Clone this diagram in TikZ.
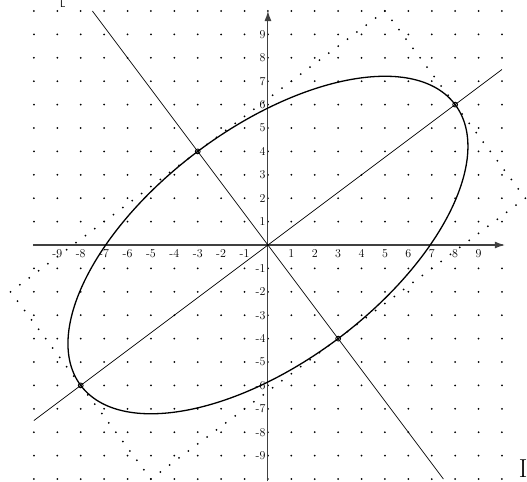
\documentclass[tikz,border=0pt]{standalone}
\usetikzlibrary{arrows.meta}
\begin{document}
\begin{tikzpicture}[x=23.4pt,y=23.4pt,
  axisline/.style={line width=1.1pt,draw=black!75},
  thinline/.style={line width=0.7pt},
  curve/.style={line width=1.3pt},
  dotrect/.style={line width=2pt,line cap=round,dash pattern=on 0pt off 11.7pt},
  ptmark/.style={line width=0.9pt},
  lab/.style={font=\fontsize{12}{13}\selectfont,inner sep=0pt}]
\useasboundingbox (-11.45,-10.09) rectangle (11.07,10.47);
% grid dots
\foreach \i in {-10,...,10}
  \foreach \j in {-10,...,10}
    \fill (\i,\j) circle (1pt);
% named points
\coordinate (O) at (0,0);
\coordinate (P1) at (8,6);
\coordinate (P2) at (-8,-6);
\coordinate (Q1) at (-3,4);
\coordinate (Q2) at (3,-4);
\coordinate (C1) at (5,10);
\coordinate (C2) at (11,2);
\coordinate (C3) at (-5,-10);
\coordinate (C4) at (-11,-2);
\coordinate (A1) at (-10,-7.5);
\coordinate (A2) at (10,7.5);
\coordinate (B1) at (-7.5,10);
\coordinate (B2) at (7.5,-10);
\coordinate (XL) at (-10,0);
\coordinate (XR) at (10.12,0);
\coordinate (YB) at (0,-10.1);
\coordinate (YT) at (0,10);
% dotted bounding rectangle
\draw[dotrect] (C1) -- (C2) -- (C3) -- (C4) -- cycle;
% axes
\draw[axisline,-{Latex[length=10pt,width=7pt]}] (XL) -- (XR);
\draw[axisline,-{Latex[length=10pt,width=7pt]}] (YB) -- (YT);
% principal axes
\draw[thinline] (A1) -- (A2);
\draw[thinline] (B1) -- (B2);
% ellipse
\draw[curve,rotate=36.8699] (O) ellipse [x radius=10, y radius=5];
% marked points
\foreach \p in {P1,P2,Q1,Q2}
  \draw[ptmark] (\p) circle (2.4pt);
% tick labels
\foreach \i in {-9,...,-1,1,2,...,9}
  \node[lab] at (\i,-0.37) {\i};
\foreach \j in {-9,...,-1,1,2,...,9}
  \node[lab,anchor=east] at (-0.1,\j) {\j};
% stray letters
\node[font=\sffamily\fontsize{10}{11}\selectfont,inner sep=0pt,anchor=north] (L) at (-8.76,10.44) {L};
\node[font=\fontsize{26}{28}\selectfont,inner sep=0pt] (I) at (10.9,-9.55) {I};
\end{tikzpicture}
\end{document}
